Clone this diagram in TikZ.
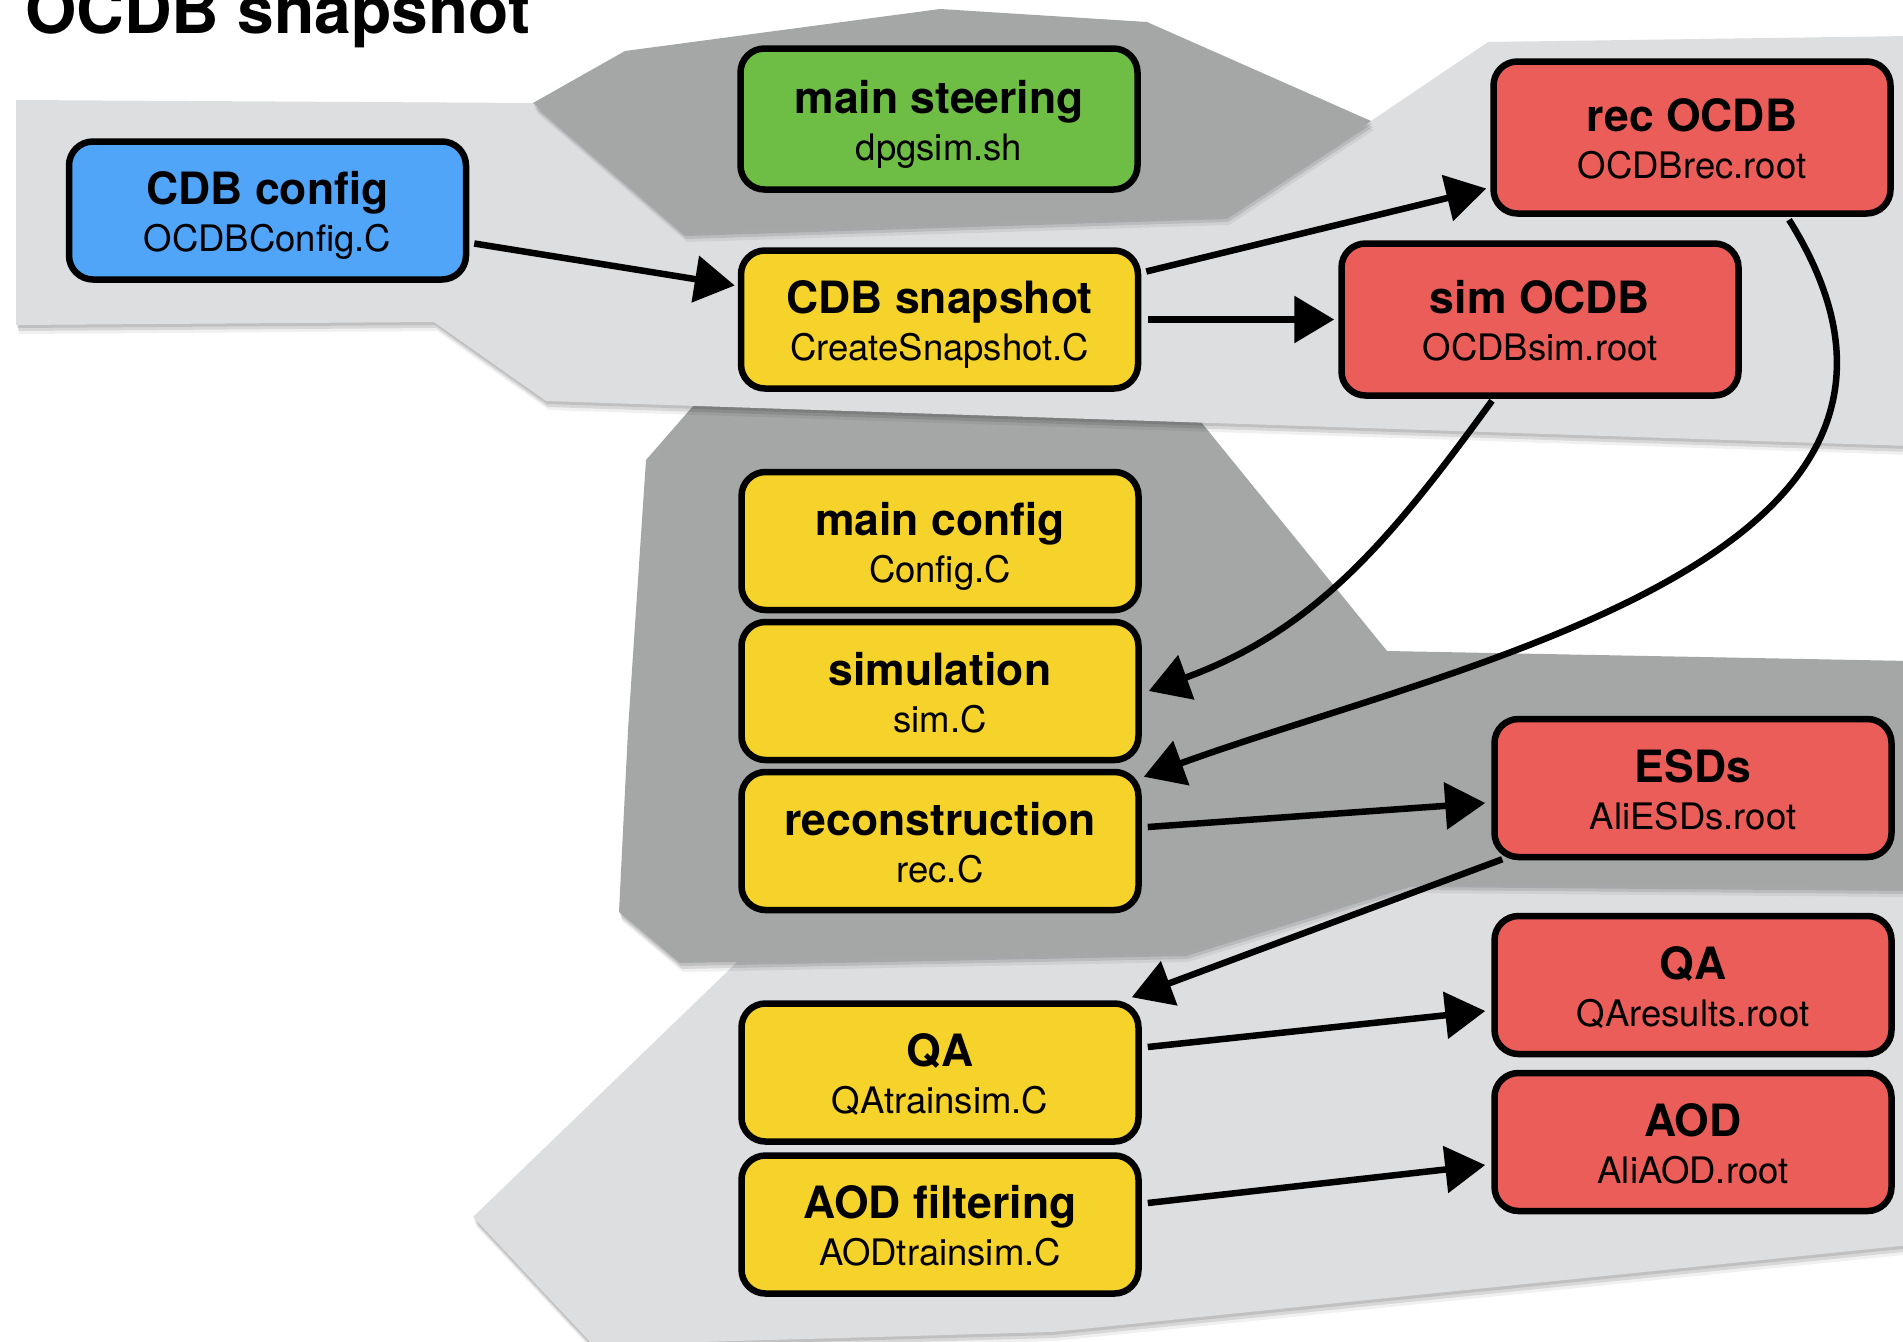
\documentclass[tikz,border=0pt]{standalone}
\usepackage{fontspec}
\setmainfont{TeX Gyre Heros}
\usetikzlibrary{arrows.meta,calc}

\definecolor{lightbg}{RGB}{221,222,224}
\definecolor{darkbg}{RGB}{164,167,166}
\definecolor{cblue}{RGB}{80,165,248}
\definecolor{cgreen}{RGB}{110,190,70}
\definecolor{cyellow}{RGB}{245,211,42}
\definecolor{cred}{RGB}{235,93,88}

\newcommand{\boxlbl}[3]{%
  \node[ttl] (#1-t) at ($(#1.center)+(0,6)$) {#2};
  \node[sub] (#1-s) at ($(#1.center)+(0,-41)$) {#3};}

\begin{document}
\begin{tikzpicture}[x=1pt,y=1pt,
  box/.style={draw=black, line width=6.5pt, rounded corners=24pt,
    minimum width=397pt, minimum height=138pt, inner sep=0pt},
  ttl/.style={anchor=base, font=\fontsize{44.5}{48}\selectfont\bfseries, inner sep=0pt},
  sub/.style={anchor=base, font=\fontsize{36.5}{40}\selectfont, inner sep=0pt},
  arr/.style={line width=6.5pt, -{Triangle[length=40pt,width=46pt]}},
  shad/.style={preaction={fill=black, fill opacity=0.10, transform canvas={xshift=1pt,yshift=-3pt}},
               preaction={fill=black, fill opacity=0.10, transform canvas={xshift=2pt,yshift=-6pt}},
               preaction={fill=black, fill opacity=0.06, transform canvas={xshift=3pt,yshift=-9pt}}},
]
\useasboundingbox (0,0) rectangle (1903,-1341);
\clip (0,0) rectangle (1903,-1341);
\fill[white] (0,0) rectangle (1903,-1341);

% background bands (bottom to top)
\fill[lightbg, shad] (760,-940) -- (1180,-930) -- (1400,-870) -- (1910,-870) -- (1910,-1245)
  -- (1052,-1332) -- (593,-1345) -- (473,-1217) -- cycle;
\fill[darkbg, shad] (707,-390) -- (1175,-390) -- (1387,-651) -- (1910,-661) -- (1910,-888)
  -- (1409,-884) -- (1185,-953) -- (680,-963) -- (619,-912) -- (628,-730) -- (646,-460) -- cycle;
\fill[lightbg, shad] (16,-100) -- (533,-103) -- (1371,-121) -- (1488,-42) -- (1910,-36)
  -- (1910,-446) -- (546,-401) -- (434,-322) -- (16,-325) -- cycle;
\fill[darkbg, shad] (533,-103) -- (625,-51) -- (940,-9) -- (1147,-22) -- (1371,-121)
  -- (1226,-216) -- (684,-233) -- cycle;

% title
\node[anchor=base west, font=\fontsize{66}{70}\selectfont\bfseries, inner sep=0pt] (title) at (25,-33) {OCDB snapshot};

% boxes
\node[box, fill=cblue] (cfg) at (267.5,-210.5) {};
\node[box, fill=cgreen, minimum height=141pt] (steer) at (939,-119) {};
\node[box, fill=cyellow] (snap) at (939.5,-319.5) {};
\node[box, fill=cred, minimum height=152pt] (rec) at (1692,-137.5) {};
\node[box, fill=cred, minimum height=152pt] (sim) at (1540,-319.5) {};
\node[box, fill=cyellow] (mcfg) at (940,-541) {};
\node[box, fill=cyellow] (simu) at (940,-691) {};
\node[box, fill=cyellow] (reco) at (940,-841) {};
\node[box, fill=cred] (esd) at (1693,-788) {};
\node[box, fill=cyellow] (qa) at (940,-1072.5) {};
\node[box, fill=cyellow] (aodf) at (940,-1224.5) {};
\node[box, fill=cred] (qar) at (1693,-985) {};
\node[box, fill=cred] (aod) at (1693,-1142) {};

\boxlbl{cfg}{CDB config}{OCDBConfig.C}
\boxlbl{steer}{main steering}{dpgsim.sh}
\boxlbl{snap}{CDB snapshot}{CreateSnapshot.C}
\boxlbl{rec}{rec OCDB}{OCDBrec.root}
\boxlbl{sim}{sim OCDB}{OCDBsim.root}
\boxlbl{mcfg}{main config}{Config.C}
\boxlbl{simu}{simulation}{sim.C}
\boxlbl{reco}{reconstruction}{rec.C}
\boxlbl{esd}{ESDs}{AliESDs.root}
\boxlbl{qa}{QA}{QAtrainsim.C}
\boxlbl{aodf}{AOD filtering}{AODtrainsim.C}
\boxlbl{qar}{QA}{QAresults.root}
\boxlbl{aod}{AOD}{AliAOD.root}

% connectors
\draw[arr] ($(cfg.east)+(5,-33)$) -- ($(snap.west)+(-3,34)$);
\draw[arr] ($(snap.east)+(5,48)$) -- ($(rec.west)+(-4,-51)$);
\draw[arr] ($(snap.east)+(7,0)$) -- ($(sim.west)+(-4,0)$);
\draw[arr] ($(sim.south)+(-48,-2)$) to[out=-126,in=20] ($(simu.east)+(7,0)$);
\draw[arr] ($(rec.south)+(97,-3)$) to[out=-58,in=20,out looseness=1.2] ($(reco.north east)+(2,-8)$);
\draw[arr] ($(reco.east)+(6,14)$) -- ($(esd.west)+(-6,-15)$);
\draw[arr] ($(esd.south west)+(11,1)$) -- ($(qa.north east)+(-10,3)$);
\draw[arr] ($(qa.east)+(6,25.5)$) -- ($(qar.west)+(-6,-26)$);
\draw[arr] ($(aodf.east)+(6,21.5)$) -- ($(aod.west)+(-6,-23)$);
\end{tikzpicture}
\end{document}
